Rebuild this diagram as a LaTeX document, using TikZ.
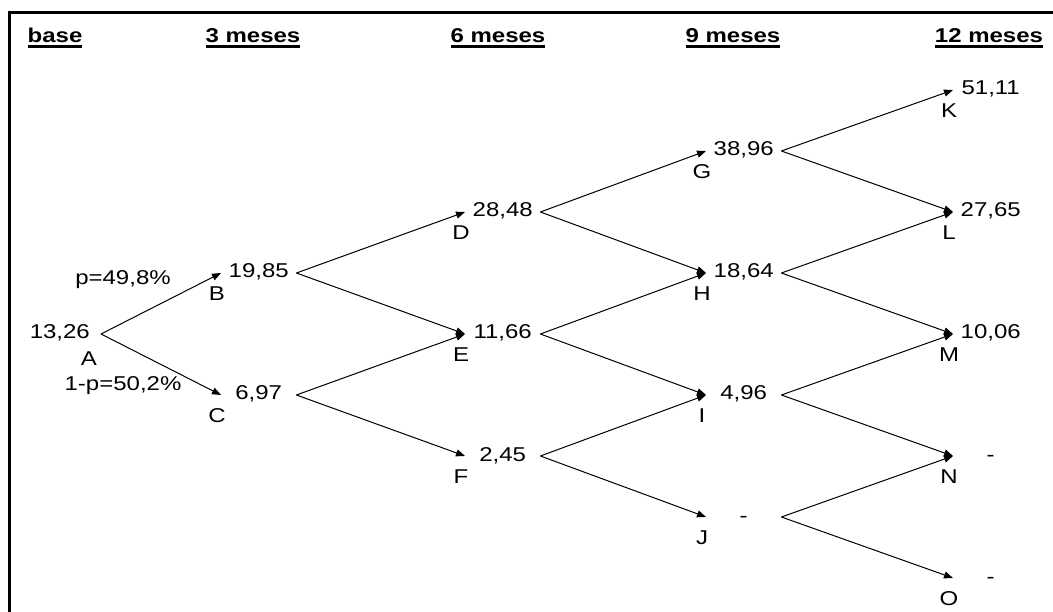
\documentclass[tikz,border=0pt]{standalone}
\usepackage{fontspec}
\setmainfont[FakeStretch=1.2]{Liberation Sans}
\usetikzlibrary{arrows.meta}
\newcommand{\ulin}[1]{\setbox0\hbox{#1}\rlap{\rule[-4.8pt]{\wd0}{3pt}}\box0}

\begin{document}
\begin{tikzpicture}[x=1pt, y=-1pt,
  every node/.style={font=\fontsize{20}{24}\selectfont, inner sep=0pt},
  cell/.style={minimum width=75pt, text height=14pt, text depth=4pt, anchor=base west},
  letter/.style={anchor=north, xshift=-4pt, yshift=-4pt},
  hdr/.style={font=\fontsize{20}{24}\selectfont\bfseries, anchor=base},
  arr/.style={line width=1pt, -{Triangle[length=9pt, width=7pt]}}]
\pgfmathsetmacro{\ymid}{339} % base line of A, E, M
\pgfmathsetmacro{\dy}{61} % half step of the tree
\useasboundingbox (0,0) rectangle (1053,612);
\draw[line width=2.7pt] (9.7,612) -- (9.7,12.2) -- (1053,12.2);

% headers
\foreach \n/\x/\t in {hb/55/base, h3/253/3 meses, h6/498/6 meses, h9/733/9 meses, h12/989/12 meses}
  \node[hdr] (\n) at (\x,43) {\ulin{\t}};

% tree
\node[cell, anchor=base east, minimum width=82pt,
  label={[anchor=north, xshift=-12pt, yshift=-8pt]south east:A}] (A) at (101,\ymid) {13,26};
\foreach \n/\x/\k/\v in {B/221/-1/{19,85}, C/221/1/{6,97}, D/465/-2/{28,48}, E/465/0/{11,66},
    F/465/2/{2,45}, G/706/-3/{38,96}, H/706/-1/{18,64}, I/706/1/{4,96}, J/706/3/{-},
    K/953/-4/{51,11}, L/953/-2/{27,65}, M/953/0/{10,06}, N/953/2/{-}, O/953/4/{-}}
  \node[cell, label={[letter]south west:\n}] (\n) at ({\x},{\ymid+(\k)*\dy}) {\v};

\node[anchor=base] (pu) at (123,285) {p=49,8\%};
\node[anchor=base] (pd) at (123,391) {1-p=50,2\%};

\foreach \s/\t in {A/B, A/C, B/D, B/E, C/E, C/F, D/G, D/H, E/H, E/I, F/I, F/J,
    G/K, G/L, H/L, H/M, I/M, I/N, J/N, J/O}
  \draw[arr] (\s.east) -- (\t.west);
\end{tikzpicture}
\end{document}
